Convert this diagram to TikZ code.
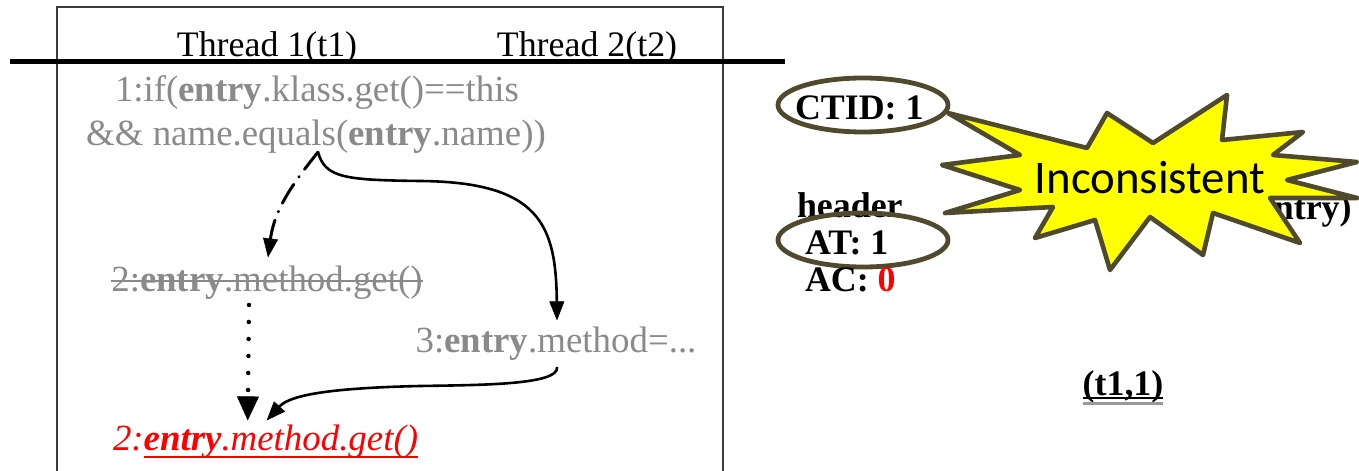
\documentclass[tikz,border=0pt]{standalone}
\usepackage{fontspec}
\setmainfont{Liberation Serif}
\newfontfamily\calfont{Carlito}
\usetikzlibrary{arrows.meta,shapes.geometric,calc}
\definecolor{codegray}{RGB}{138,138,138}
\definecolor{starline}{RGB}{79,73,46}
\definecolor{staryellow}{RGB}{255,255,0}
\definecolor{boxline}{RGB}{60,60,60}
\begin{document}
\begin{tikzpicture}[x=1bp,y=-1bp,
  txt/.style={inner sep=0pt,outer sep=0pt,font=\fontsize{36}{40}\selectfont},
  code/.style={inner sep=0pt,outer sep=0pt,text=codegray,font=\fontsize{37}{40}\selectfont},
  rtxt/.style={inner sep=0pt,outer sep=0pt,font=\fontsize{36}{40}\selectfont\bfseries},
  conn/.style={line width=2.6bp,-{Triangle[length=19bp,width=15bp,line width=0.5bp]}},
  ring/.style={ellipse,draw=starline,line width=4.8bp,minimum width=170bp,minimum height=54bp,inner sep=0pt}]
\useasboundingbox (0,0) rectangle (1359,471);
% frame
\draw[boxline,line width=1.5bp] (57,480) -- (57,7) -- (723,7) -- (723,480);
\draw[black,line width=5bp] (10,62) -- (785,62);
% headings
\node[txt,anchor=base] (t1) at (267,57) {Thread 1(t1)};
\node[txt,anchor=base] (t2) at (587,57) {Thread 2(t2)};
% code
\node[code,anchor=base] (l1) at (317,102) {1:if(\textbf{entry}.klass.get()==this};
\node[code,anchor=base] (l2) at (316,146) {\&\& name.equals(\textbf{entry}.name))};
\node[code,anchor=base] (s2) at (267,292) {2:\textbf{entry}.method.get()};
\draw[codegray,line width=2bp] ($(s2.base west)+(0,-11)$) -- ($(s2.base east)+(0,-11)$);
\node[code,anchor=base] (s3) at (556,352) {3:\textbf{entry}.method=...};
\node[code,text=red,anchor=base west] (r2a) at (113,450) {\itshape 2:};
\node[code,text=red,anchor=base west] (r2b) at (r2a.base east) {\itshape\textbf{entry}.method.get()};
\draw[red,line width=2bp] ($(r2b.base west)+(0,7)$) -- ($(r2b.base east)+(0,7)$);
\coordinate (br) at (318,152);
% connectors
\draw[line width=3bp,line cap=round,dash pattern=on 22bp off 9bp on 0.5bp off 9bp,-{Triangle[length=19bp,width=15bp,line width=0.5bp]}]
  (br) .. controls (300,175) and (275,205) .. ($(s2.north)+(1,-9)$);
\draw[conn] (br) .. controls (325,178) and (345,180) .. (420,181)
  .. controls (540,182) and (556,225) .. ($(s3.north)+(1,-6)$);
\draw[line width=4.5bp,line cap=round,dash pattern=on 0bp off 17bp,-{Triangle[length=24bp,width=22bp,line width=0.5bp]}]
  ($(s2.south)+(-18,5)$) -- ($(r2b.north west)+(104,-4)$);
\draw[conn] ($(s3.south)+(1,7)$) .. controls (560,385) and (480,385) .. (420,386)
  .. controls (330,388) and (290,395) .. ($(r2b.north west)+(123,-4)$);
% right side
\node[rtxt,anchor=base west] (ctid) at (795,120) {CTID: 1};
\node[ring] (e1) at (863,105) {};
\node[rtxt,anchor=base west] (hdr) at (797,218) {header};
\node[rtxt,anchor=base west] (at) at (805,255) {AT: 1};
\node[ring] (e2) at (863,240) {};
\node[rtxt,anchor=base west] (ac) at (805,292) {AC: \textcolor{red}{0}};
\node[rtxt,anchor=base west] (ent) at (1246,220) {(entry)};
\node[rtxt,anchor=base] (t11) at (1123,395) {(t1,1)};
\draw[black,line width=2bp] ($(t11.base west)+(0,3)$) -- ($(t11.base east)+(0,3)$);
\draw[black!40,line width=3.5bp] ($(t11.base west)+(0,8.5)$) -- ($(t11.base east)+(0,8.5)$);
% star
\draw[starline,fill=staryellow,line width=4.6bp,line join=round]
  (948,113) -- (1087,148) -- (1107,113) -- (1153,143) -- (1227,95) -- (1222,140)
  -- (1303,132) -- (1273,155) -- (1357,162) -- (1287,180) -- (1357,198) -- (1270,198)
  -- (1300,243) -- (1213,213) -- (1203,255) -- (1150,217) -- (1110,270) -- (1095,220)
  -- (1035,238) -- (1053,207) -- (945,213) -- (1020,190) -- (942,165) -- (1020,155) -- cycle;
\node[inner sep=0pt,font=\calfont\fontsize{47}{50}\selectfont] (inc) at (1150,178) {Inconsistent};
\end{tikzpicture}
\end{document}
